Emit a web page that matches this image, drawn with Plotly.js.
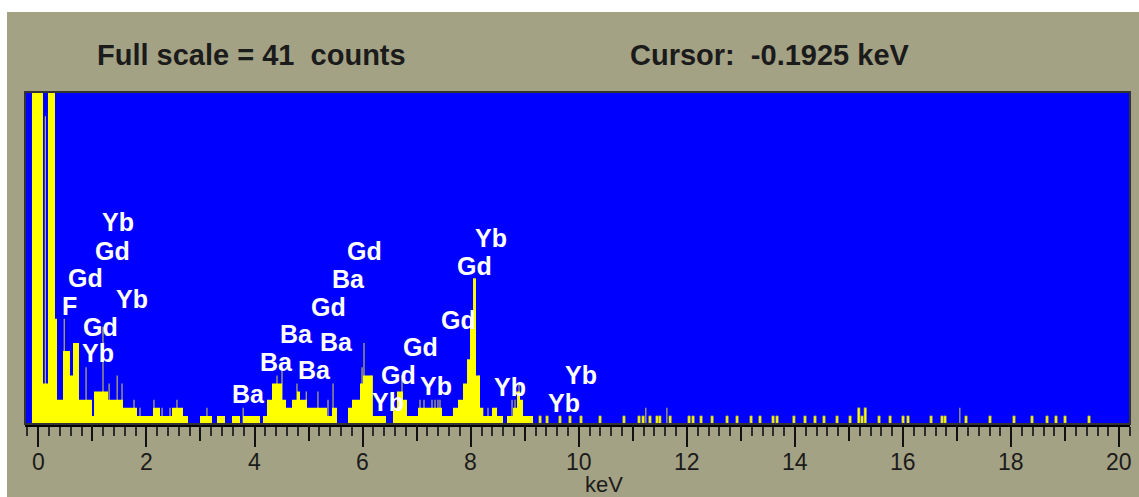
<!DOCTYPE html>
<html>
<head>
<meta charset="utf-8">
<script src="https://cdn.plot.ly/plotly-3.0.1.min.js"></script>
<style>
  html, body { margin:0; padding:0; background:#ffffff; overflow:hidden; width:1139px; height:497px; }
  #chart { position:absolute; left:7px; top:12px; width:1132px; height:485px; }
</style>
</head>
<body>
<div id="chart"></div>
<script>
// ---- data ----
const fullScaleCounts = 41;
const cursorKeV = -0.1925;
const axisTitle = 'keV';

const tickKeV = [0, 2, 4, 6, 8, 10, 12, 14, 16, 18, 20];
const tickLabels = ['0', '2', '4', '6', '8', '10', '12', '14', '16', '18', '20'];
const midTickKeV = [1, 3, 5, 7, 9, 11, 13, 15, 17, 19];

// step spectrum: level starting at each energy (counts; values above full scale are clipped)
const stepKeV = [-0.117, 0.087, 0.179, 0.309, 0.346, 0.457, 0.586, 0.642, 0.753, 0.994,
  1.031, 1.290, 1.567, 1.826, 2.122, 2.252, 2.474, 2.677, 2.770, 2.992,
  3.214, 3.306, 3.454, 3.584, 3.732, 3.788, 4.102, 4.157, 4.231, 4.324,
  4.509, 4.583, 4.694, 4.786, 4.842, 4.971, 5.342, 5.434, 5.526, 5.730,
  5.804, 5.952, 6.008, 6.190, 6.433, 6.562, 6.636, 6.747, 6.821, 7.025,
  7.469, 7.672, 7.765, 7.858, 7.932, 7.987, 8.043, 8.098, 8.172, 8.233,
  8.394, 8.487, 8.598, 8.672, 8.783, 8.857, 8.913, 8.968, 9.153];
const stepCounts = [60, 5, 60, 13, 3, 9, 6, 10, 3, 1,
  4, 3, 2, 1, 2, 1, 2, 1, 0, 1,
  0, 1, 0, 1, 0, 1, 0, 1, 3, 5,
  3, 2, 3, 4, 3, 2, 1, 2, 0, 2,
  3, 5, 6, 1, 0, 2, 4, 3, 1, 2,
  1, 2, 3, 5, 8, 13, 18, 6, 2, 1,
  2, 1, 0, 1, 2, 4, 3, 1, 0];

// single-channel spikes
const spikeKeV = [0.13, 0.48, 0.884, 1.197, 1.31, 1.459, 1.549, 1.771, 1.882, 2.14,
  2.29, 2.437, 2.566, 3.12, 3.79, 4.416, 4.509, 4.786, 4.958, 5.174,
  5.36, 5.453, 5.99, 6.026, 6.155, 6.729, 7.062, 7.136, 7.284, 7.34,
  7.395, 7.432, 8.154, 8.32, 8.468, 8.765, 8.82, 8.894, 11.24, 11.63, 17.05];
const spikeCounts = [38, 13, 7, 12, 5, 6, 5, 3, 2, 3,
  2, 2, 3, 2, 2, 6, 7, 5, 4, 4,
  3, 5, 7, 10, 6, 6, 3, 3, 3, 3,
  3, 3, 6, 2, 2, 3, 3, 5, 2, 2, 2];

// isolated low-count channels (high-energy tail)
const channelKeV = [9.284, 9.413, 9.652, 9.837, 10.041, 10.393, 10.836, 11.114, 11.19,
  11.317, 11.447, 11.5, 11.69, 12.04, 12.114, 12.262, 12.466, 12.743, 12.928,
  13.187, 13.353, 13.594, 13.668, 13.98, 14.185, 14.37, 14.537, 14.778, 15.019,
  15.18, 15.24, 15.30, 15.555, 15.759, 15.999, 16.091, 16.517, 16.72, 16.776,
  17.164, 17.608, 18.052, 18.385, 18.663, 18.829, 18.996, 19.44];
const channelCounts = [1, 1, 1, 1, 1, 1, 1, 1, 1,
  1, 1, 1, 1, 1, 1, 1, 1, 1, 1,
  1, 1, 1, 1, 1, 1, 1, 1, 1, 1,
  2, 1, 2, 1, 1, 1, 1, 1, 1, 1,
  1, 1, 1, 1, 1, 1, 1, 1];

// element peak labels
const labelText = ['Yb', 'Gd', 'Gd', 'Yb', 'F', 'Gd', 'Yb',
  'Gd', 'Ba', 'Gd', 'Ba', 'Ba', 'Ba', 'Ba', 'Ba', 'Yb', 'Gd', 'Gd',
  'Yb', 'Gd', 'Gd', 'Yb', 'Yb', 'Yb', 'Yb'];
const labelKeV = [1.475, 1.382, 0.864, 1.734, 0.586, 1.142, 1.105,
  6.044, 5.730, 5.360, 4.786, 5.508, 4.416, 5.101, 3.898, 6.469, 6.673, 7.080,
  8.375, 8.079, 7.765, 7.358, 8.727, 10.04, 9.726];
const labelCounts = [24.94, 21.36, 18.03, 15.44, 14.57, 11.98, 8.77,
  21.36, 17.91, 14.45, 11.11, 10.13, 7.66, 6.67, 3.70, 2.72, 6.05, 9.51,
  22.97, 19.51, 12.84, 4.69, 4.57, 6.05, 2.59];

// ---- drawing ----
const xRange = [-0.246, 20.198];
const ink = '#1b1b1b';
const family = 'Liberation Sans, Arial, sans-serif';

const traces = [
  {
    type: 'scatter', mode: 'lines', x: stepKeV, y: stepCounts,
    line: { shape: 'hv', color: '#ffff00', width: 0 },
    fill: 'tozeroy', fillcolor: '#ffff00', hoverinfo: 'skip'
  },
  {
    type: 'bar', x: channelKeV, y: channelCounts, width: 0.045,
    marker: { color: '#ffff00', line: { color: '#9a9a58', width: 0.6 } }, hoverinfo: 'skip'
  },
  {
    type: 'bar', x: spikeKeV, y: spikeCounts, width: 0.022,
    marker: { color: '#b8b860', line: { width: 0 } }, hoverinfo: 'skip'
  },
  {
    type: 'scatter', mode: 'markers', x: [midTickKeV[0]], y: [0], xaxis: 'x2',
    marker: { opacity: 0 }, hoverinfo: 'skip'
  }
];

const annotations = [
  {
    xref: 'paper', yref: 'paper', x: (95 - 25) / 1105, y: (424 - 55) / 332,
    xanchor: 'left', yanchor: 'middle', showarrow: false,
    text: '<b>Full scale = ' + fullScaleCounts + '\u00A0\u00A0counts</b>',
    font: { family: family, size: 29, color: ink }
  },
  {
    xref: 'paper', yref: 'paper', x: (628 - 25) / 1105, y: (424 - 55) / 332,
    xanchor: 'left', yanchor: 'middle', showarrow: false,
    text: '<b>Cursor:\u00A0\u00A0' + cursorKeV.toFixed(4) + ' keV</b>',
    font: { family: family, size: 29, color: ink }
  },
  {
    xref: 'paper', yref: 'paper', x: (604 - 25) / 1105, y: (424 - 498) / 332,
    xanchor: 'center', yanchor: 'bottom', showarrow: false, borderpad: 0,
    text: axisTitle, font: { family: family, size: 22, color: ink }
  }
];
// tick labels on the keV scale
tickKeV.forEach((v, i) => {
  annotations.push({
    xref: 'x', yref: 'paper', x: v, y: (424 - 462) / 332,
    xanchor: 'center', yanchor: 'middle', showarrow: false, borderpad: 0,
    text: tickLabels[i], font: { family: family, size: 23, color: ink }
  });
});
labelText.forEach((t, i) => {
  annotations.push({
    xref: 'x', yref: 'y', x: labelKeV[i], y: labelCounts[i],
    xanchor: 'center', yanchor: 'middle', showarrow: false,
    text: '<b>' + t + '</b>', font: { family: family, size: 25, color: '#ffffff' }
  });
});

const layout = {
  width: 1132, height: 485,
  margin: { l: 18, r: 9, t: 80, b: 73, pad: 0 },
  paper_bgcolor: '#a4a284', plot_bgcolor: '#0000ff',
  showlegend: false, barmode: 'overlay',
  xaxis: {
    range: xRange, tickmode: 'array', tickvals: tickKeV, showticklabels: false,
    ticks: 'outside', ticklen: 20, tickwidth: 2, tickcolor: '#111111',
    showline: true, linecolor: '#000000', linewidth: 3,
    showgrid: false, zeroline: false, fixedrange: true,
    minor: { tickmode: 'linear', tick0: 0, dtick: 0.2, ticks: 'outside', ticklen: 9, tickwidth: 2, tickcolor: '#2b2b2b', showgrid: false }
  },
  xaxis2: {
    overlaying: 'x', anchor: 'y', side: 'bottom', range: xRange,
    tickmode: 'array', tickvals: midTickKeV, ticks: 'outside', ticklen: 16, tickwidth: 2, tickcolor: '#111111',
    showticklabels: false, showgrid: false, zeroline: false, showline: false, fixedrange: true
  },
  yaxis: {
    range: [0, fullScaleCounts], showgrid: false, zeroline: false, showticklabels: false,
    ticks: '', showline: false, fixedrange: true
  },
  shapes: [
    { type: 'rect', xref: 'paper', yref: 'paper', x0: 0, x1: 1, y0: 0, y1: 1,
      line: { color: '#333333', width: 2 }, fillcolor: 'rgba(0,0,0,0)', layer: 'above' }
  ],
  annotations: annotations
};

Plotly.newPlot('chart', traces, layout, { displayModeBar: false, staticPlot: true });
</script>
</body>
</html>
